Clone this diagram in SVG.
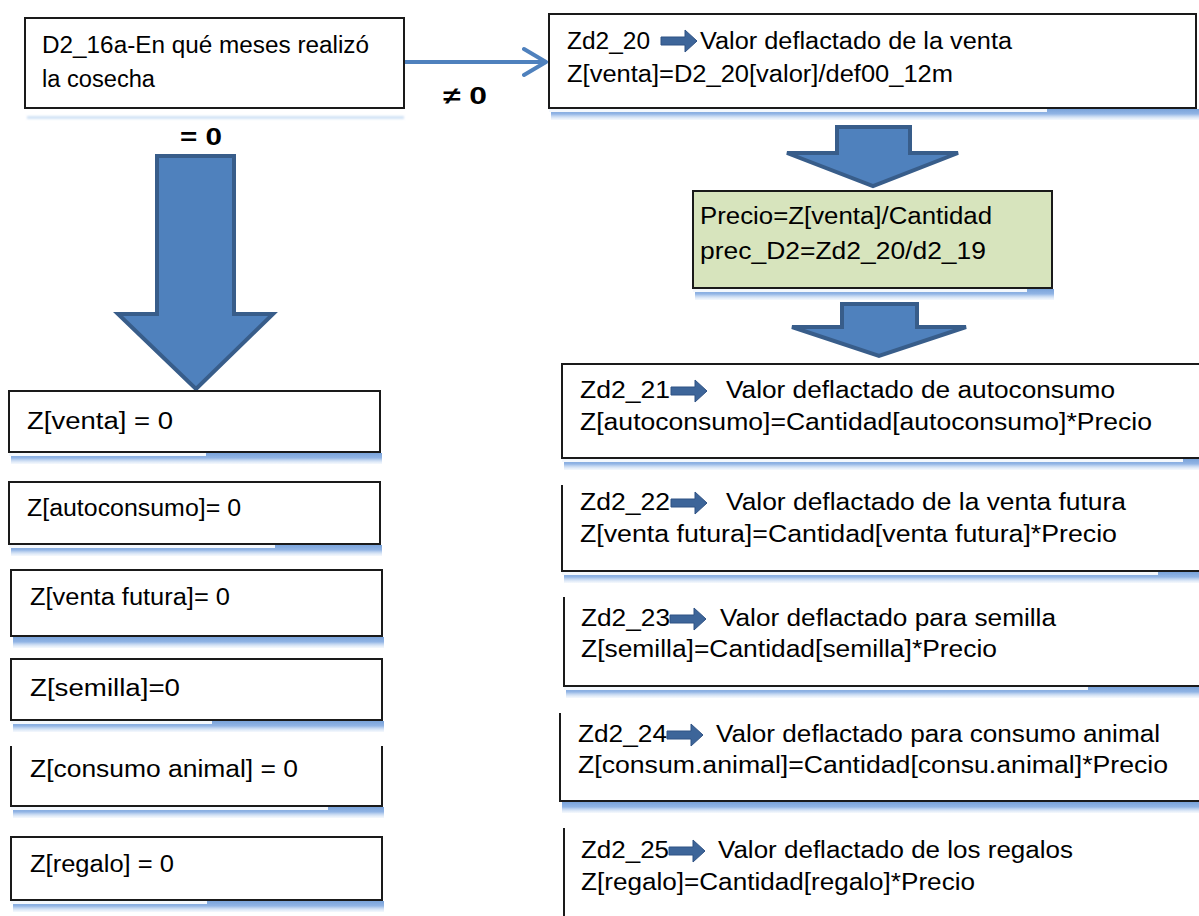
<svg xmlns="http://www.w3.org/2000/svg" width="1199" height="916" viewBox="0 0 1199 916">
<style>
text{font-family:"Liberation Sans",Arial,sans-serif;font-size:23px;fill:#000}
.lbl{font-weight:bold;font-size:24px}
.box{fill:#fff;stroke:#1a1a1a;stroke-width:2}
.edge{fill:none;stroke:#1a1a1a;stroke-width:2}
.green{fill:#d7e4bd;stroke:#1a1a1a;stroke-width:2}
.blk{fill:#4f81bd;stroke:#385d8a;stroke-width:4;stroke-linejoin:miter}
.mini{fill:#3d6599;stroke:#2f5284;stroke-width:1}
.shd{fill:url(#sg)}
.wh{fill:#f4f8fd}
</style>
<defs>
<linearGradient id="sg" x1="0" y1="0" x2="0" y2="1">
<stop offset="0" stop-color="#7aa3da"/>
<stop offset="0.45" stop-color="#92b5e5"/>
<stop offset="1" stop-color="#dce8f7" stop-opacity="0.3"/>
</linearGradient>
<filter id="blur" x="-5%" y="-100%" width="110%" height="300%"><feGaussianBlur stdDeviation="0.8"/></filter>
<path id="miniArrow" d="M0,-4 H24 V-11 L36,0 L24,11 V4 H0 Z"/>
<marker id="chev" markerUnits="userSpaceOnUse" viewBox="0 0 28 32" markerWidth="28" markerHeight="32" refX="24" refY="16" orient="auto">
<path d="M2,3 L24,16 L2,29" fill="none" stroke="#4f81bd" stroke-width="4" stroke-linecap="round" stroke-linejoin="round"/>
</marker>
</defs>
<rect width="1199" height="916" fill="#fff"/>

<g id="connectors">
<line x1="404" y1="62" x2="546" y2="62" stroke="#4f81bd" stroke-width="4" marker-end="url(#chev)"/>
<text class="lbl" x="443" y="104" textLength="44" lengthAdjust="spacingAndGlyphs">≠ 0</text>
<text class="lbl" x="180" y="145" textLength="42" lengthAdjust="spacingAndGlyphs">= 0</text>
<polygon class="blk" points="157,156 234,156 234,314 273,314 196,389 118,314 157,314"/>
<polygon class="blk" points="837,127 910,127 910,153 958,153 873,186 787,153 837,153"/>
<polygon class="blk" points="842,304 917,304 917,327 966,327 879,356 792,327 842,327"/>
</g>

<g id="node-d2-16a">
<rect x="27" y="116" width="377" height="3" fill="#d0e2f5" filter="url(#blur)"/>
<rect class="box" x="25" y="18" width="379" height="90"/>
<text x="42" y="53" textLength="327" lengthAdjust="spacingAndGlyphs">D2_16a-En qué meses realizó</text>
<text x="42" y="87" textLength="113" lengthAdjust="spacingAndGlyphs">la cosecha</text>
</g>

<g id="node-zd2-20">
<rect class="shd" x="551" y="109" width="648" height="11"/>
<rect class="wh" x="549" y="109" width="498" height="3"/>
<rect class="box" x="549" y="14" width="647" height="94"/>
<text x="567" y="49" textLength="83" lengthAdjust="spacingAndGlyphs">Zd2_20</text>
<use href="#miniArrow" class="mini" x="661" y="41"/>
<text x="700" y="49" textLength="312" lengthAdjust="spacingAndGlyphs">Valor deflactado de la venta</text>
<text x="567" y="82" textLength="386" lengthAdjust="spacingAndGlyphs">Z[venta]=D2_20[valor]/def00_12m</text>
</g>

<g id="node-precio">
<rect class="shd" x="695" y="289" width="359" height="11"/>
<rect class="wh" x="693" y="289" width="334" height="3"/>
<rect class="green" x="693" y="191" width="359" height="97"/>
<text x="700" y="224" textLength="292" lengthAdjust="spacingAndGlyphs">Precio=Z[venta]/Cantidad</text>
<text x="700" y="259" textLength="286" lengthAdjust="spacingAndGlyphs">prec_D2=Zd2_20/d2_19</text>
</g>

<g id="node-zventa-0">
<rect class="shd" x="11" y="453" width="371" height="11"/>
<rect class="wh" x="9" y="453" width="197" height="3"/>
<rect class="box" x="9" y="391" width="371" height="61"/>
<text x="27" y="429" textLength="146" lengthAdjust="spacingAndGlyphs">Z[venta] = 0</text>
</g>

<g id="node-zautoconsumo-0">
<rect class="shd" x="11" y="545" width="371" height="11"/>
<rect class="wh" x="9" y="545" width="266" height="3"/>
<rect class="box" x="9" y="482" width="371" height="62"/>
<text x="27" y="516" textLength="214" lengthAdjust="spacingAndGlyphs">Z[autoconsumo]= 0</text>
</g>

<g id="node-zventafutura-0">
<rect class="shd" x="13" y="637" width="371" height="11"/>
<rect class="box" x="11" y="570" width="371" height="66"/>
<text x="30" y="605" textLength="200" lengthAdjust="spacingAndGlyphs">Z[venta futura]= 0</text>
</g>

<g id="node-zsemilla-0">
<rect class="shd" x="13" y="721" width="371" height="11"/>
<rect class="wh" x="11" y="721" width="201" height="3"/>
<rect class="box" x="11" y="659" width="371" height="61"/>
<text x="30" y="696" textLength="150" lengthAdjust="spacingAndGlyphs">Z[semilla]=0</text>
</g>

<g id="node-zconsumoanimal-0">
<rect class="shd" x="13" y="807" width="371" height="11"/>
<rect class="wh" x="11" y="807" width="317" height="3"/>
<rect x="11" y="746" width="371" height="60" fill="#fff"/>
<path class="edge" d="M11,746 V806 H382 V746"/>
<text x="30" y="777" textLength="268" lengthAdjust="spacingAndGlyphs">Z[consumo animal] = 0</text>
</g>

<g id="node-zregalo-0">
<rect class="shd" x="13" y="901" width="371" height="11"/>
<rect class="wh" x="11" y="901" width="196" height="3"/>
<rect class="box" x="11" y="837" width="371" height="63"/>
<text x="30" y="872" textLength="144" lengthAdjust="spacingAndGlyphs">Z[regalo] = 0</text>
</g>

<g id="node-zd2-21">
<rect class="shd" x="564" y="459" width="660" height="11"/>
<rect class="wh" x="562" y="459" width="621" height="3"/>
<rect class="box" x="562" y="364" width="660" height="94"/>
<text x="580" y="398" textLength="90" lengthAdjust="spacingAndGlyphs">Zd2_21</text>
<use href="#miniArrow" class="mini" x="671" y="391"/>
<text x="726" y="398" textLength="389" lengthAdjust="spacingAndGlyphs">Valor deflactado de autoconsumo</text>
<text x="580" y="430" textLength="572" lengthAdjust="spacingAndGlyphs">Z[autoconsumo]=Cantidad[autoconsumo]*Precio</text>
</g>

<g id="node-zd2-22">
<rect class="shd" x="564" y="572" width="660" height="11"/>
<rect class="wh" x="562" y="572" width="596" height="3"/>
<rect x="562" y="485" width="660" height="86" fill="#fff"/>
<path class="edge" d="M562,485 V571 H1205"/>
<text x="580" y="510" textLength="90" lengthAdjust="spacingAndGlyphs">Zd2_22</text>
<use href="#miniArrow" class="mini" x="671" y="503"/>
<text x="726" y="510" textLength="400" lengthAdjust="spacingAndGlyphs">Valor deflactado de la venta futura</text>
<text x="580" y="542" textLength="537" lengthAdjust="spacingAndGlyphs">Z[venta futura]=Cantidad[venta futura]*Precio</text>
</g>

<g id="node-zd2-23">
<rect class="shd" x="566" y="687" width="660" height="11"/>
<rect class="wh" x="564" y="687" width="524" height="3"/>
<rect x="564" y="597" width="660" height="89" fill="#fff"/>
<path class="edge" d="M564,597 V686 H1205"/>
<text x="581" y="626" textLength="89" lengthAdjust="spacingAndGlyphs">Zd2_23</text>
<use href="#miniArrow" class="mini" x="670" y="619"/>
<text x="720" y="626" textLength="336" lengthAdjust="spacingAndGlyphs">Valor deflactado para semilla</text>
<text x="581" y="657" textLength="416" lengthAdjust="spacingAndGlyphs">Z[semilla]=Cantidad[semilla]*Precio</text>
</g>

<g id="node-zd2-24">
<rect class="shd" x="562" y="802" width="660" height="11"/>
<rect x="560" y="713" width="660" height="88" fill="#fff"/>
<path class="edge" d="M560,713 V801 H1205"/>
<text x="578" y="742" textLength="89" lengthAdjust="spacingAndGlyphs">Zd2_24</text>
<use href="#miniArrow" class="mini" x="667" y="735"/>
<text x="716" y="742" textLength="444" lengthAdjust="spacingAndGlyphs">Valor deflactado para consumo animal</text>
<text x="578" y="773" textLength="590" lengthAdjust="spacingAndGlyphs">Z[consum.animal]=Cantidad[consu.animal]*Precio</text>
</g>

<g id="node-zd2-25">
<path class="edge" d="M564,828 V920"/>
<text x="581" y="858" textLength="88" lengthAdjust="spacingAndGlyphs">Zd2_25</text>
<use href="#miniArrow" class="mini" x="669" y="851"/>
<text x="718" y="858" textLength="355" lengthAdjust="spacingAndGlyphs">Valor deflactado de los regalos</text>
<text x="581" y="890" textLength="394" lengthAdjust="spacingAndGlyphs">Z[regalo]=Cantidad[regalo]*Precio</text>
</g>
</svg>
